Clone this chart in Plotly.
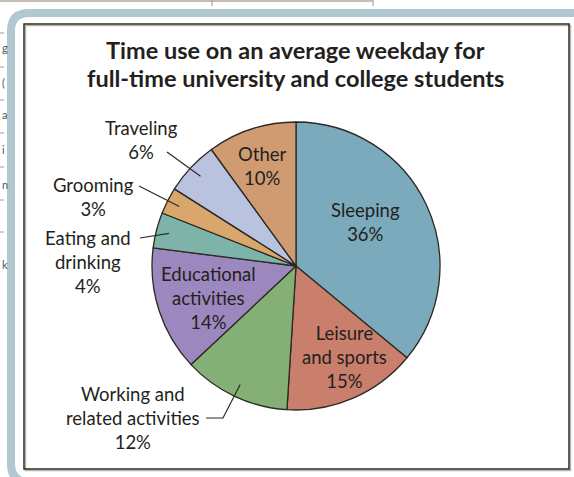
import math
import plotly.graph_objects as go

# ---- data ----
categories = ["Sleeping", "Leisure and sports", "Working and related activities",
              "Educational activities", "Eating and drinking", "Grooming",
              "Traveling", "Other"]
shares = [36, 15, 12, 14, 4, 3, 6, 10]
label_texts = ["Sleeping<br>36%", "Leisure<br>and sports<br>15%",
               "Working and<br>related activities<br>12%",
               "Educational<br>activities<br>14%", "Eating and<br>drinking<br>4%",
               "Grooming<br>3%", "Traveling<br>6%", "Other<br>10%"]
colors = ["#7BAABC", "#C97F6B", "#84B075", "#9C88BE", "#7EB3A9", "#D9A76B",
          "#B9C3E0", "#D09B71"]
title_lines = ["Time use on an average weekday for",
               "full-time university and college students"]

W, H = 574, 477
FONT = "Lato"
TXT = "#231F20"

def px(x):
    return x / W

def py(y):
    return 1 - y / H

# pie geometry (pixels)
cx, cy, r = 296, 266, 144

fig = go.Figure()
fig.add_trace(go.Pie(
    values=shares, labels=categories, sort=False, direction="clockwise",
    rotation=0, textinfo="none", hoverinfo="label+percent", showlegend=False,
    marker=dict(colors=colors, line=dict(color="#2B2A22", width=1.3)),
    domain=dict(x=[px(cx - r), px(cx + r)], y=[py(cy + r), py(cy - r)]),
))

shapes = []
# outer rounded band
band = (f"M {px(620)} {py(482)} L {px(29)} {py(482)} Q {px(11)} {py(482)} {px(11)} {py(464)} "
        f"L {px(11)} {py(31)} Q {px(11)} {py(13)} {px(29)} {py(13)} L {px(620)} {py(13)}")
shapes.append(dict(type="path", path=band, xref="paper", yref="paper",
                   line=dict(color="#B1C8D0", width=8), layer="below"))
# inner frame shadow + frame
shapes.append(dict(type="rect", xref="paper", yref="paper",
                   x0=px(25.5), y0=py(470.5), x1=px(570.5), y1=py(25.5),
                   line=dict(color="#B8B6AE", width=1.5)))
shapes.append(dict(type="rect", xref="paper", yref="paper",
                   x0=px(24), y0=py(469), x1=px(569), y1=py(24),
                   line=dict(color="#2B2A22", width=1.5)))
# stray top rule from page
shapes.append(dict(type="line", xref="paper", yref="paper",
                   x0=0, y0=py(1), x1=px(373), y1=py(1),
                   line=dict(color="#AEAB9C", width=1.5)))
for tx in (212, 373):
    shapes.append(dict(type="line", xref="paper", yref="paper",
                       x0=px(tx), y0=py(0), x1=px(tx), y1=py(6),
                       line=dict(color="#AEAB9C", width=1.3)))
# stray left rules
for ly in (33, 67, 100, 133, 167, 200, 232):
    shapes.append(dict(type="line", xref="paper", yref="paper",
                       x0=0, y0=py(ly), x1=px(4), y1=py(ly),
                       line=dict(color="#9E9C92", width=1)))

# leader lines (inner end derived from slice mid-angles)
total = sum(shares)
cum = []
c = 0
for v in shares:
    cum.append(c)
    c += v

def inner_point(i, frac=0.91):
    th = 2 * math.pi * (cum[i] + shares[i] / 2) / total
    return cx + frac * r * math.sin(th), cy - frac * r * math.cos(th)

leader_outer = {6: [(167, 152)], 5: [(139, 186)], 4: [(140, 238)],
                2: [(206, 418), (223, 418)]}
for i, pts in leader_outer.items():
    ix, iy = inner_point(i)
    allp = pts + [(ix, iy)]
    path = "M " + " L ".join(f"{px(a)} {py(b)}" for a, b in allp)
    shapes.append(dict(type="path", path=path, xref="paper", yref="paper",
                       line=dict(color="#2B2A22", width=1.2)))

annotations = []
for t, y in zip(title_lines, (50, 78)):
    annotations.append(dict(text=f"<b>{t}</b>", x=px(295), y=py(y), xref="paper", yref="paper",
                            showarrow=False, xanchor="center", yanchor="middle",
                            font=dict(family=FONT, size=23.5, color=TXT)))
label_pos = [(365, 222), (345, 357), (133, 418), (208, 298), (88, 262),
             (93, 197), (141, 140), (262, 166)]
for t, (x, y) in zip(label_texts, label_pos):
    annotations.append(dict(text=t, x=px(x), y=py(y), xref="paper", yref="paper",
                            showarrow=False, xanchor="center", yanchor="middle",
                            align="center", font=dict(family=FONT, size=18.5, color=TXT)))
# glyph fragments on left page edge
for g, gy in [("g", 48), ("(", 82), ("a", 115), ("i", 150), ("n", 184), ("k", 264)]:
    annotations.append(dict(text=g, x=0, y=py(gy), xref="paper", yref="paper",
                            showarrow=False, xanchor="left", yanchor="middle",
                            font=dict(family=FONT, size=11, color="#555")))

fig.update_layout(width=W, height=H, margin=dict(l=0, r=0, t=0, b=0),
                  paper_bgcolor="white", plot_bgcolor="white",
                  shapes=shapes, annotations=annotations)
fig.write_html("out.html", config={"displayModeBar": False},
               post_script="document.body.style.margin='0';document.body.style.padding='0';")
